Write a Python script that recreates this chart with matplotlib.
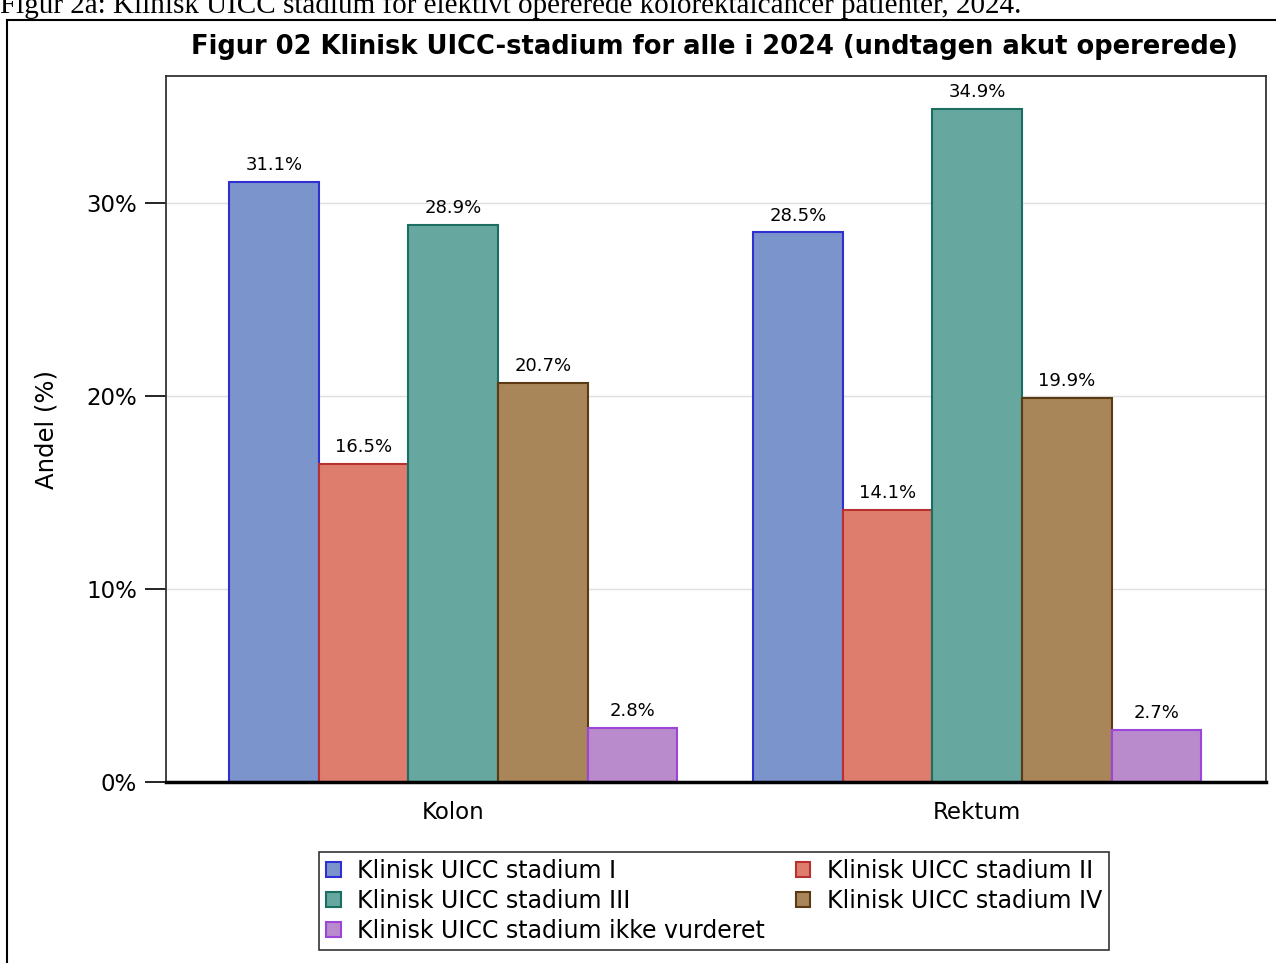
import numpy as np
import matplotlib.pyplot as plt
from matplotlib.lines import Line2D

# Data (percent)
categories = ["Kolon", "Rektum"]
series = [
    "Klinisk UICC stadium I",
    "Klinisk UICC stadium II",
    "Klinisk UICC stadium III",
    "Klinisk UICC stadium IV",
    "Klinisk UICC stadium ikke vurderet",
]
stadium_I = [31.1, 28.5]
stadium_II = [16.5, 14.1]
stadium_III = [28.9, 34.9]
stadium_IV = [20.7, 19.9]
ikke_vurderet = [2.8, 2.7]
values = [stadium_I, stadium_II, stadium_III, stadium_IV, ikke_vurderet]

fills = ['#7b95cc', '#de7d6e', '#66a8a0', '#a8865a', '#b98bcc']
edges = ['#3030d0', '#b83030', '#1c6e60', '#5a3a12', '#9c45d8']

fig = plt.figure(figsize=(12.76, 9.63), dpi=100)

# caption (cut at top of page) and outer frame
fig.text(0.0, 1 - 13 / 963,
         "Figur 2a: Klinisk UICC stadium for elektivt opererede kolorektalcancer patienter, 2024.",
         family='Liberation Serif', fontsize=21, ha='left', va='baseline')
fig.add_artist(Line2D([7 / 1276, 7 / 1276], [0, 1 - 20 / 963], color='black', lw=1.5))
fig.add_artist(Line2D([7 / 1276, 1], [1 - 20 / 963, 1 - 20 / 963], color='black', lw=1.5))

ax = fig.add_axes([166 / 1276, 1 - 782 / 963, 1100 / 1276, 706 / 963])

x = np.arange(len(categories))
width = 0.171
for i, (vals, name) in enumerate(zip(values, series)):
    pos = x + (i - 2) * width
    bars = ax.bar(pos, vals, width, color=fills[i], edgecolor=edges[i],
                  linewidth=1.5, label=name, zorder=3)
    for b, v in zip(bars, vals):
        ax.text(b.get_x() + b.get_width() / 2, v + 0.4, f"{v}%",
                ha='center', va='bottom', fontsize=13, zorder=4)

ax.set_xlim(-0.548, 1.551)
ax.set_ylim(0, 36.6)
ax.set_yticks([0, 10, 20, 30])
ax.set_yticklabels(["0%", "10%", "20%", "30%"], fontsize=16.5)
ax.set_xticks(x)
ax.set_xticklabels(categories, fontsize=16.5)
ax.tick_params(axis='x', length=0, pad=14)
ax.tick_params(axis='y', length=15, width=1.2, pad=6)
ax.set_ylabel("Andel (%)", fontsize=17.5, labelpad=20)
ax.yaxis.grid(True, color='#e0e0e0', lw=1, zorder=0)
for s in ax.spines.values():
    s.set_color('#333333')
    s.set_linewidth(1.3)
ax.spines['bottom'].set_color('black')
ax.spines['bottom'].set_linewidth(2.5)
ax.spines['bottom'].set_zorder(5)

fig.text(715 / 1276, 1 - 47 / 963,
         "Figur 02 Klinisk UICC-stadium for alle i 2024 (undtagen akut opererede)",
         fontsize=18.5, fontweight='bold', ha='center', va='center')

handles, labels = ax.get_legend_handles_labels()
order = [0, 2, 4, 1, 3]
leg = fig.legend([handles[k] for k in order], [labels[k] for k in order],
                 loc='upper left', bbox_to_anchor=(319 / 1276, 1 - 852 / 963),
                 ncol=2, fontsize=17, frameon=True, fancybox=False,
                 edgecolor='black', handlelength=0.62, handleheight=0.62,
                 handletextpad=0.7, columnspacing=1.3, labelspacing=0.25,
                 borderpad=0.3, borderaxespad=0)
leg.get_frame().set_linewidth(1.2)

fig.savefig("out.png", dpi=100)
